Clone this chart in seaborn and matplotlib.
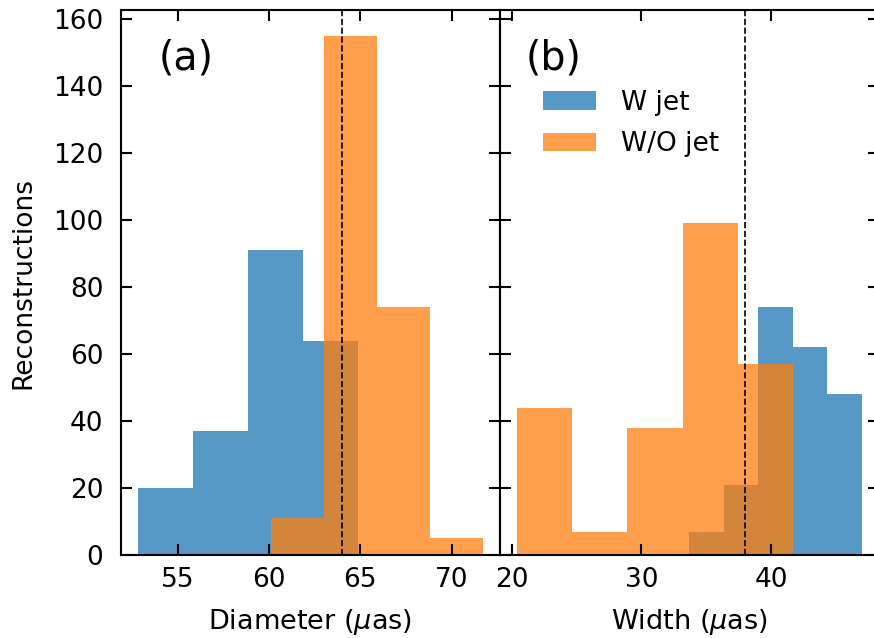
import matplotlib
matplotlib.use("Agg")
import matplotlib.pyplot as plt
import seaborn as sns
import numpy as np

# ---- data ----
# Panel (a): diameter histograms
diam_w_edges = [52.80, 55.82, 58.85, 61.87, 64.89]
diam_w_counts = [20, 37, 91, 64]
diam_wo_edges = [60.09, 62.99, 65.90, 68.80, 71.70]
diam_wo_counts = [11, 155, 74, 5]
diam_ref = 64.0

# Panel (b): width histograms
width_w_edges = [33.67, 36.33, 38.99, 41.66, 44.32, 46.98]
width_w_counts = [7, 21, 74, 62, 48]
width_wo_edges = [20.41, 24.66, 28.92, 33.17, 37.43, 41.68]
width_wo_counts = [44, 7, 38, 99, 57]
width_ref = 38.0

labels = ["W jet", "W/O jet"]
panel_labels = ["(a)", "(b)"]
xlabels = ["Diameter ($\\mu$as)", "Width ($\\mu$as)"]
ylabel = "Reconstructions"

blue = "#1f77b4"
orange = "#ff7f0e"

fig, axes = plt.subplots(1, 2, sharey=True, figsize=(8.74, 6.38), dpi=100)
fig.subplots_adjust(left=0.138, right=1.0057, bottom=0.1301, top=0.9843, wspace=0)


def centers(e):
    e = np.asarray(e)
    return (e[:-1] + e[1:]) / 2


panels = [
    (axes[0], diam_w_edges, diam_w_counts, diam_wo_edges, diam_wo_counts, diam_ref),
    (axes[1], width_w_edges, width_w_counts, width_wo_edges, width_wo_counts, width_ref),
]

for i, (ax, we, wc, oe, oc, ref) in enumerate(panels):
    sns.histplot(x=centers(we), weights=wc, bins=we, color=blue, alpha=0.75,
                 edgecolor="white", linewidth=0.0, ax=ax, label=labels[0])
    sns.histplot(x=centers(oe), weights=oc, bins=oe, color=orange, alpha=0.75,
                 edgecolor="white", linewidth=0.0, ax=ax, label=labels[1])
    ax.axvline(ref, color="black", linestyle="--", linewidth=1.2)
    ax.set_xlabel(xlabels[i], fontsize=19.5, labelpad=9.5)
    ax.set_ylabel("")
    ax.tick_params(direction="in", top=True, right=True, length=8, width=1.5,
                   labelsize=19)
    ax.tick_params(axis="x", pad=9)
    ax.tick_params(axis="y", pad=12.5)
    for s in ax.spines.values():
        s.set_linewidth(1.5)
    ax.text(0.1 if i == 0 else 0.069, 0.948, panel_labels[i], transform=ax.transAxes,
            fontsize=28.5, ha="left", va="top")

axes[0].set_ylabel(ylabel, fontsize=19, labelpad=12)
axes[1].tick_params(labelleft=False)
axes[0].set_yticks([0, 20, 40, 60, 80, 100, 120, 140, 160])
axes[0].set_xticks([55, 60, 65, 70])
axes[1].set_xticks([20, 30, 40])

axes[1].legend(loc="upper left", bbox_to_anchor=(0.086, 0.873), borderaxespad=0,
               frameon=False, fontsize=19, handletextpad=0.95, labelspacing=0.58)

fig.savefig("out.png", dpi=100)
